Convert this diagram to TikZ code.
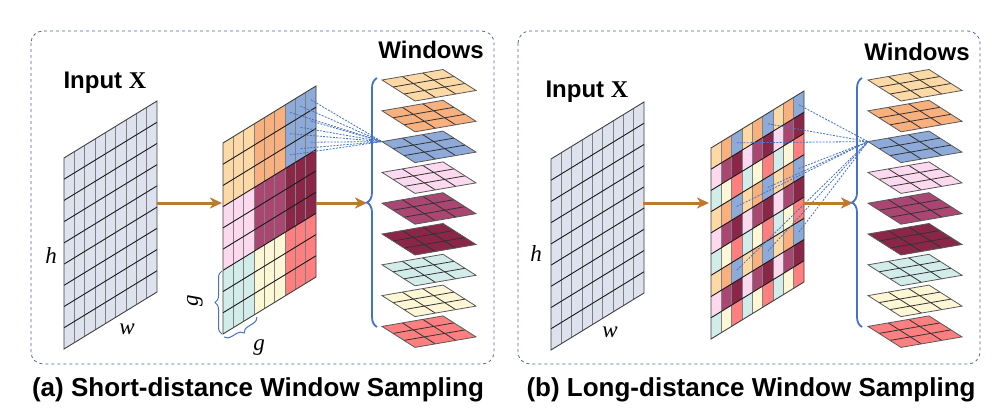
\documentclass[tikz,border=0pt]{standalone}
\usepackage{fontspec}
\setmainfont{Liberation Sans}
\newfontfamily\serifX{Liberation Serif}
\usetikzlibrary{decorations.pathreplacing,arrows.meta}
\definecolor{wc0}{RGB}{253,218,165}
\definecolor{wc1}{RGB}{248,176,126}
\definecolor{wc2}{RGB}{142,170,216}
\definecolor{wc3}{RGB}{252,217,238}
\definecolor{wc4}{RGB}{169,70,114}
\definecolor{wc5}{RGB}{138,39,72}
\definecolor{wc6}{RGB}{210,236,234}
\definecolor{wc7}{RGB}{253,247,213}
\definecolor{wc8}{RGB}{254,127,127}
\definecolor{inputfill}{RGB}{221,226,238}
\definecolor{arrowc}{RGB}{186,123,43}
\definecolor{bracec}{RGB}{68,114,196}
\definecolor{boxc}{RGB}{84,106,150}
\def\ax{10.3333}
\def\ay{-6.3333}
\def\by{21.2222}
\tikzset{
  vline/.style={draw=black!50,line width=0.7pt},
  hline/.style={draw=black!90,line width=0.9pt},
  gborder/.style={draw=black!75,line width=0.9pt},
  tline/.style={draw=black!80,line width=0.8pt},
  tborder/.style={draw=black!65,line width=0.8pt},
  dline/.style={draw=bracec,line width=0.8pt,dash pattern=on 2pt off 1.3pt},
  flowarrow/.style={draw=arrowc,line width=3pt,-{Stealth[length=12pt,width=11pt,inset=3.5pt]}},
  bigbrace/.style={draw=bracec,line width=1.8pt,decorate,decoration={brace,amplitude=10pt}},
  smallbrace/.style={draw=bracec,line width=1pt,decorate,decoration={brace,amplitude=7pt}},
  panel/.style={draw=boxc,dashed,line width=0.8pt,rounded corners=12pt},
  title/.style={font=\bfseries\fontsize{24}{28}\selectfont},
  caption/.style={font=\bfseries\fontsize{26}{30}\selectfont},
  varlabel/.style={font=\serifX\itshape\fontsize{23}{26}\selectfont}
}
\newcommand\DrawGrid[3]{%
  \foreach \r in {0,...,8}{%
    \foreach \c in {0,...,8}{%
      \ifcase#3\relax
        \def\cc{inputfill}%
      \or
        \pgfmathtruncatemacro\k{3*int(\r/3)+int(\c/3)}\edef\cc{wc\k}%
      \or
        \pgfmathtruncatemacro\k{3*mod(\r,3)+mod(\c,3)}\edef\cc{wc\k}%
      \fi
      \fill[\cc] ({#1+\c*\ax},{#2+\c*\ay+\r*\by}) -- ++(\ax,\ay) -- ++(0,\by) -- ++(-\ax,-\ay) -- cycle;
    }}
  \foreach \c in {1,...,8} \draw[vline] ({#1+\c*\ax},{#2+\c*\ay}) -- ++(0,{9*\by});
  \foreach \r in {1,...,8} \draw[hline] (#1,{#2+\r*\by}) -- ++({9*\ax},{9*\ay});
  \draw[gborder] (#1,#2) -- ++({9*\ax},{9*\ay}) -- ++(0,{9*\by}) -- ++({-9*\ax},{-9*\ay}) -- cycle;
}
\newcommand\DrawTile[3]{%
  \fill[#3] (#1,#2) -- ++(61,-10.5) -- ++(33,21) -- ++(-61,10.5) -- cycle;
  \foreach \k in {1,2}{%
    \draw[tline] ({#1+\k*11},{#2+\k*7}) -- ++(61,-10.5);
    \draw[tline] ({#1+\k*20.333},{#2-\k*3.5}) -- ++(33,21);
  }
  \draw[tborder] (#1,#2) -- ++(61,-10.5) -- ++(33,21) -- ++(-61,10.5) -- cycle;
}
\begin{document}
\begin{tikzpicture}[x=1pt,y=-1pt]
\useasboundingbox (0,0) rectangle (1000,414);
\fill[white] (0,0) rectangle (1000,414);
% panels
\draw[panel] (31,31) rectangle (494,364);
\draw[panel] (518,31) rectangle (980,364);
% ---------------- left panel ----------------
\DrawGrid{64}{158}{0}
\DrawGrid{223}{143}{1}
\foreach \i in {0,...,8} \DrawTile{382}{80+30.8*\i}{wc\i}
\coordinate (tipL) at (382,141.6);
\foreach \c in {6,7,8}
  \foreach \r in {0,1,2}
    \draw[dline] ({223+(\c+0.5)*\ax},{143+(\c+0.5)*\ay+(\r+0.5)*\by}) -- (tipL);
\coordinate (inLout) at (157,203);
\coordinate (midLin) at (222,203);
\coordinate (midLout) at (316,203);
\coordinate (brLin) at (367,203);
\draw[flowarrow] (inLout) -- (midLin);
\draw[flowarrow] (midLout) -- (brLin);
\coordinate (brLb) at (377,327);
\coordinate (brLt) at (377,78);
\draw[bigbrace] (brLb) -- (brLt);
\coordinate (gvb) at (222,334);
\coordinate (gvt) at (222,271);
\draw[smallbrace] (gvb) -- (gvt);
\coordinate (ghr) at (257,317);
\coordinate (ghl) at (224,337);
\draw[smallbrace] (ghr) -- (ghl);
\node[title,anchor=west] (inputL) at (60,83) {Input {\serifX X}};
\node[title] (winL) at (431,50) {Windows};
\node[varlabel] (hL) at (51,256) {h};
\node[varlabel] (wL) at (127,329) {w};
\node[varlabel,rotate=90] (gV) at (195,301) {g};
\node[varlabel] (gH) at (259,348) {g};
\node[caption] (capA) at (258,390) {(a) Short-distance Window Sampling};
% ---------------- right panel ----------------
\DrawGrid{551}{159}{0}
\DrawGrid{711}{148}{2}
\foreach \i in {0,...,8} \DrawTile{868}{80+30.8*\i}{wc\i}
\coordinate (tipR) at (868,141.6);
\foreach \c in {2,5,8}
  \foreach \r in {0,3,6}
    \draw[dline] ({711+(\c+0.5)*\ax},{148+(\c+0.5)*\ay+(\r+0.5)*\by}) -- (tipR);
\coordinate (inRout) at (643,203);
\coordinate (midRin) at (709,203);
\coordinate (midRout) at (803,203);
\coordinate (brRin) at (853,203);
\draw[flowarrow] (inRout) -- (midRin);
\draw[flowarrow] (midRout) -- (brRin);
\coordinate (brRb) at (862,327);
\coordinate (brRt) at (862,78);
\draw[bigbrace] (brRb) -- (brRt);
\node[title,anchor=west] (inputR) at (542,92) {Input {\serifX X}};
\node[title] (winR) at (917,52) {Windows};
\node[varlabel] (hR) at (536,254) {h};
\node[varlabel] (wR) at (610,332) {w};
\node[caption] (capB) at (751,390) {(b) Long-distance Window Sampling};
\end{tikzpicture}
\end{document}
